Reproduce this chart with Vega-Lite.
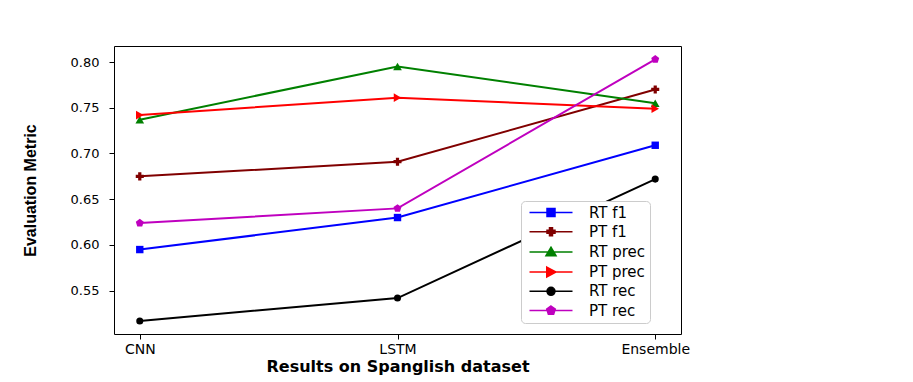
{
  "$schema": "https://vega.github.io/schema/vega-lite/v6.json",
  "autosize": "none",
  "width": 567,
  "height": 288,
  "padding": {"left": 114, "top": 46, "right": 232, "bottom": 48},
  "background": "white",
  "config": {
    "view": {"stroke": "black", "strokeWidth": 1},
    "axis": {
      "labelFont": "DejaVu Sans",
      "labelColor": "black",
      "tickColor": "black",
      "tickSize": 5,
      "domain": false,
      "grid": false,
      "titleColor": "black"
    },
    "legend": {
      "orient": "none",
      "legendX": 407,
      "legendY": 155,
      "title": null,
      "fillColor": "white",
      "strokeColor": "#cccccc",
      "cornerRadius": 4,
      "padding": 4,
      "labelFont": "DejaVu Sans",
      "labelFontSize": 15,
      "labelColor": "black",
      "symbolSize": 100,
      "symbolStrokeWidth": 1.5,
      "symbolFillColor": "white",
      "labelOffset": 49,
      "rowPadding": 3.2
    }
  },
  "data": {
    "values": [
      {"model": "CNN", "series": "RT f1", "value": 0.595},
      {"model": "LSTM", "series": "RT f1", "value": 0.630},
      {"model": "Ensemble", "series": "RT f1", "value": 0.709},
      {"model": "CNN", "series": "PT f1", "value": 0.675},
      {"model": "LSTM", "series": "PT f1", "value": 0.691},
      {"model": "Ensemble", "series": "PT f1", "value": 0.770},
      {"model": "CNN", "series": "RT prec", "value": 0.737},
      {"model": "LSTM", "series": "RT prec", "value": 0.795},
      {"model": "Ensemble", "series": "RT prec", "value": 0.755},
      {"model": "CNN", "series": "PT prec", "value": 0.742},
      {"model": "LSTM", "series": "PT prec", "value": 0.761},
      {"model": "Ensemble", "series": "PT prec", "value": 0.749},
      {"model": "CNN", "series": "RT rec", "value": 0.517},
      {"model": "LSTM", "series": "RT rec", "value": 0.542},
      {"model": "Ensemble", "series": "RT rec", "value": 0.672},
      {"model": "CNN", "series": "PT rec", "value": 0.624},
      {"model": "LSTM", "series": "PT rec", "value": 0.640},
      {"model": "Ensemble", "series": "PT rec", "value": 0.803}
    ]
  },
  "encoding": {
    "x": {
      "field": "model",
      "type": "nominal",
      "sort": ["CNN", "LSTM", "Ensemble"],
      "scale": {"type": "point", "padding": 0.1},
      "axis": {
        "labelAngle": 0,
        "labelFontSize": 14,
        "labelPadding": 3,
        "title": "Results on Spanglish dataset",
        "titleFont": "DejaVu Sans",
        "titleFontSize": 16,
        "titleFontWeight": "bold",
        "titlePadding": 2
      }
    },
    "y": {
      "field": "value",
      "type": "quantitative",
      "scale": {"domain": [0.5027, 0.8175], "nice": false, "zero": false},
      "axis": {
        "values": [0.55, 0.6, 0.65, 0.7, 0.75, 0.8],
        "format": ".2f",
        "labelFontSize": 13,
        "labelPadding": 10,
        "title": "Evaluation Metric",
        "titleFont": "Liberation Sans",
        "titleFontSize": 16,
        "titleFontWeight": "bold",
        "titlePadding": 32
      }
    }
  },
  "layer": [
    {
      "mark": {"type": "line", "strokeWidth": 2},
      "encoding": {
        "color": {
          "field": "series",
          "type": "nominal",
          "sort": ["RT f1", "PT f1", "RT prec", "PT prec", "RT rec", "PT rec"],
          "scale": {
            "range": ["#0000ff", "#800000", "#008000", "#ff0000", "#000000", "#bf00bf"]
          },
          "legend": null
        }
      }
    },
    {
      "transform": [{"filter": "datum.series === 'RT f1'"}],
      "mark": {"type": "point", "filled": true, "opacity": 1, "color": "#0000ff", "shape": "square", "size": 55}
    },
    {
      "transform": [{"filter": "datum.series === 'PT f1'"}],
      "mark": {"type": "point", "filled": true, "opacity": 1, "color": "#800000", "shape": "cross", "size": 65}
    },
    {
      "transform": [{"filter": "datum.series === 'RT prec'"}],
      "mark": {"type": "point", "filled": true, "opacity": 1, "color": "#008000", "shape": "triangle-up", "size": 75}
    },
    {
      "transform": [{"filter": "datum.series === 'PT prec'"}],
      "mark": {"type": "point", "filled": true, "opacity": 1, "color": "#ff0000", "shape": "triangle-right", "size": 75}
    },
    {
      "transform": [{"filter": "datum.series === 'RT rec'"}],
      "mark": {"type": "point", "filled": true, "opacity": 1, "color": "#000000", "shape": "circle", "size": 50}
    },
    {
      "transform": [{"filter": "datum.series === 'PT rec'"}],
      "mark": {"type": "point", "filled": true, "opacity": 1, "color": "#bf00bf", "shape": "M0,-1L0.951,-0.309L0.588,0.809L-0.588,0.809L-0.951,-0.309Z", "size": 70}
    },
    {
      "mark": {"type": "point", "filled": true, "opacity": 0},
      "encoding": {
        "fill": {
          "field": "series",
          "type": "nominal",
          "scale": {
            "domain": ["RT f1", "PT f1", "RT prec", "PT prec", "RT rec", "PT rec"],
            "range": ["#0000ff", "#800000", "#008000", "#ff0000", "#000000", "#bf00bf"]
          },
          "legend": {"title": null}
        },
        "stroke": {
          "field": "series",
          "type": "nominal",
          "scale": {
            "domain": ["RT f1", "PT f1", "RT prec", "PT prec", "RT rec", "PT rec"],
            "range": ["#0000ff", "#800000", "#008000", "#ff0000", "#000000", "#bf00bf"]
          },
          "legend": {"title": null}
        },
        "shape": {
          "field": "series",
          "type": "nominal",
          "scale": {
            "domain": ["RT f1", "PT f1", "RT prec", "PT prec", "RT rec", "PT rec"],
            "range": [
              "M-0.6,0H8M2.9,-0.8H4.5V0.8H2.9Z",
              "M-0.6,0H8M2.9,-0.3H3.4V-0.8H4V-0.3H4.5V0.3H4V0.8H3.4V0.3H2.9Z",
              "M-0.6,0H8M2.7,0.75L3.7,-0.95L4.7,0.75Z",
              "M-0.6,0H8M2.85,-1L4.7,0L2.85,1Z",
              "M-0.6,0H8M2.9,0A0.8,0.8 0 1,0 4.5,0A0.8,0.8 0 1,0 2.9,0Z",
              "M-0.6,0H8M3.7,-0.9L4.556,-0.278L4.229,0.728L3.171,0.728L2.844,-0.278Z"
            ]
          },
          "legend": {"title": null}
        }
      }
    }
  ]
}
